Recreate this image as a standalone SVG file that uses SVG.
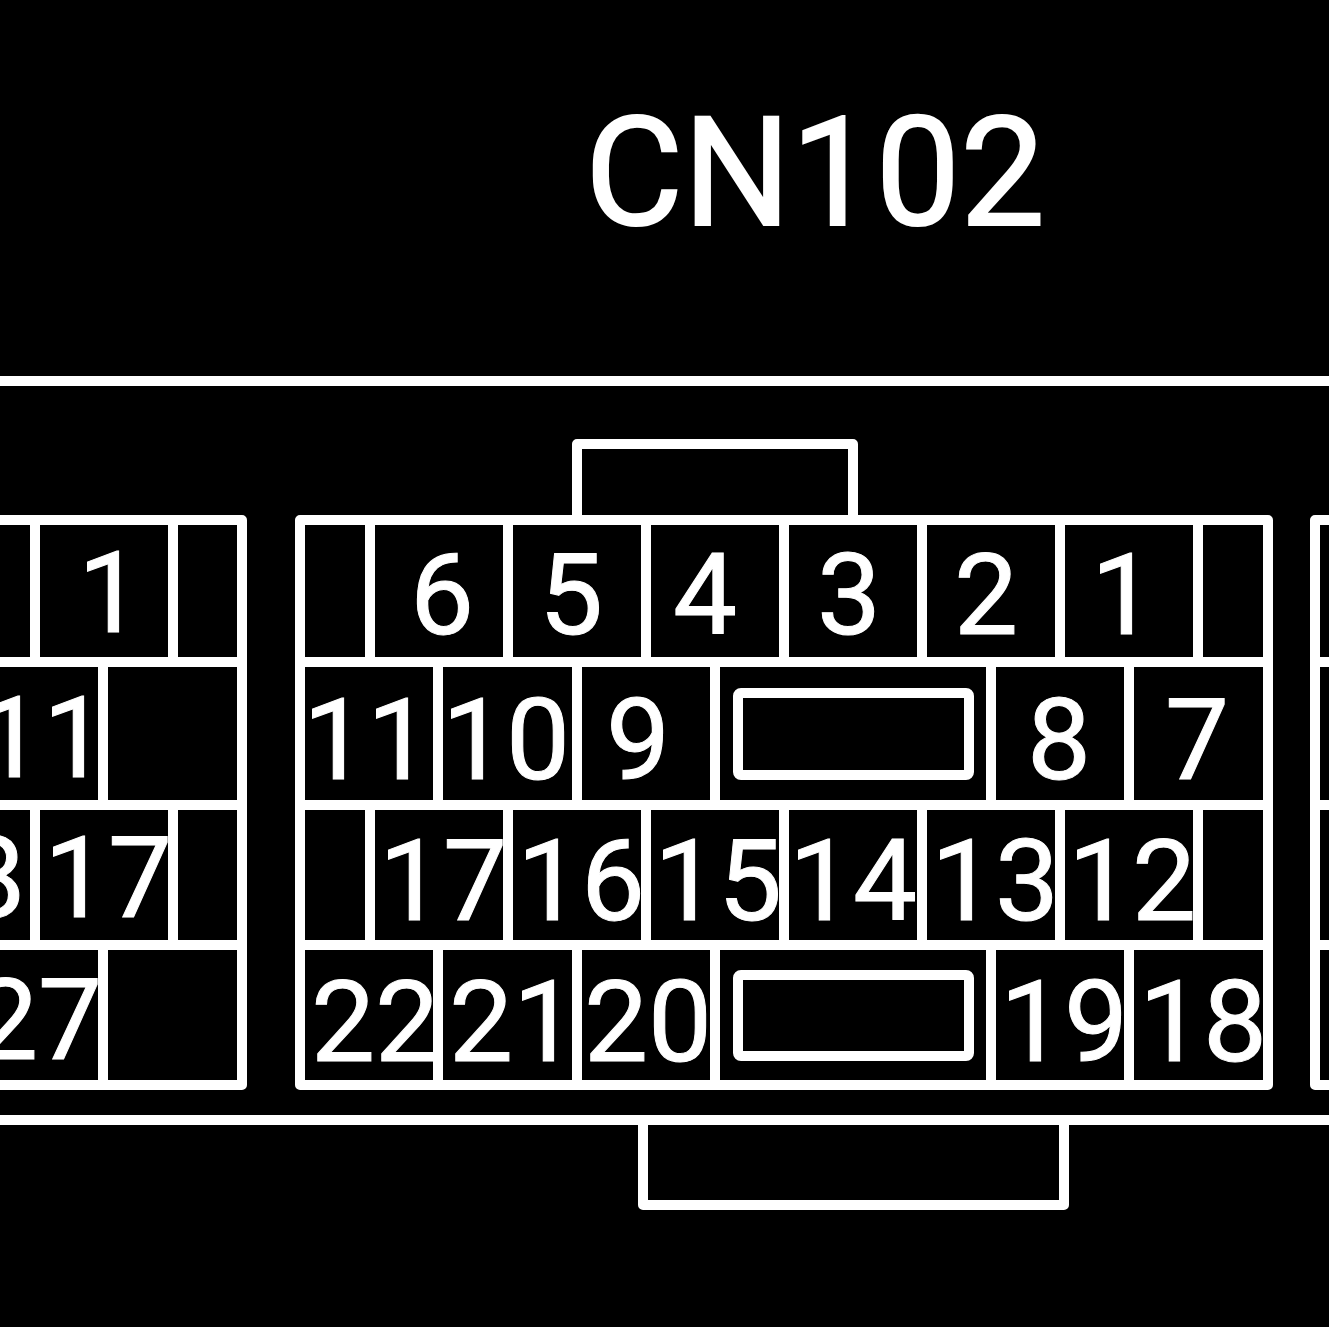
<svg xmlns="http://www.w3.org/2000/svg" width="1329" height="1327" viewBox="0 0 1329 1327">
<style>
.l{fill:none;stroke:#fff;stroke-width:10;stroke-linejoin:round}
.t{fill:#fff;stroke:#fff;stroke-width:1;font-family:Roboto,"Liberation Sans",Arial,sans-serif;font-size:114px;text-anchor:middle}
.h{fill:#fff;stroke:#fff;stroke-width:2;font-family:Roboto,"Liberation Sans",Arial,sans-serif;font-size:152px}
</style>
<rect width="1329" height="1327" fill="#000"/>
<text id="title" class="h" x="585" y="225" textLength="460" lengthAdjust="spacingAndGlyphs">CN102</text>
<g id="housing">
<path class="l" d="M0 381H1329M0 1120H1329"/>
<path class="l" d="M577 518V444H853V518M643 1124V1205H1064V1124"/>
</g>
<g id="left-connector">
<path class="l" d="M0 520H242V1085H0M0 662H242M0 805H242M0 945H242M35 520V662M173 520V662M103 662V805M35 805V945M173 805V945M103 945V1085"/>
<text class="t" x="110" y="632">1</text>
<text class="t" x="43" y="777">11</text>
<text class="t" x="-7" y="917">8</text>
<text class="t" x="108" y="917">17</text>
<text class="t" x="38" y="1059">27</text>
</g>
<g id="center-connector">
<path class="l" d="M300 520H1268V1085H300ZM300 662H1268M300 805H1268M300 945H1268"/>
<path class="l" d="M370 520V662M508 520V662M646 520V662M784 520V662M922 520V662M1060 520V662M1198 520V662"/>
<path class="l" d="M438 662V805M577 662V805M715 662V805M991 662V805M1129 662V805"/>
<path class="l" d="M370 805V945M508 805V945M646 805V945M784 805V945M922 805V945M1060 805V945M1198 805V945"/>
<path class="l" d="M438 945V1085M577 945V1085M715 945V1085M991 945V1085M1129 945V1085"/>
<rect class="l" x="738" y="693" width="231" height="82" rx="3"/>
<rect class="l" x="738" y="975" width="231" height="81" rx="3"/>
<text class="t" x="442" y="634">6</text><text class="t" x="571" y="634">5</text><text class="t" x="705" y="634">4</text><text class="t" x="849" y="634">3</text><text class="t" x="986" y="634">2</text><text class="t" x="1123" y="634">1</text>
<text class="t" x="367" y="779">11</text><text class="t" x="506" y="779">10</text><text class="t" x="638" y="779">9</text><text class="t" x="1059" y="779">8</text><text class="t" x="1197" y="779">7</text>
<text class="t" x="443" y="920">17</text><text class="t" x="581" y="920">16</text><text class="t" x="718" y="920">15</text><text class="t" x="853" y="920">14</text><text class="t" x="995" y="920">13</text><text class="t" x="1132" y="920">12</text>
<text class="t" x="375" y="1061">22</text><text class="t" x="513" y="1061">21</text><text class="t" x="648" y="1061">20</text><text class="t" x="1064" y="1061">19</text><text class="t" x="1203" y="1061">18</text>
</g>
<g id="right-connector">
<path class="l" d="M1329 520H1315V1085H1329M1315 662H1329M1315 805H1329M1315 945H1329"/>
</g>
</svg>
